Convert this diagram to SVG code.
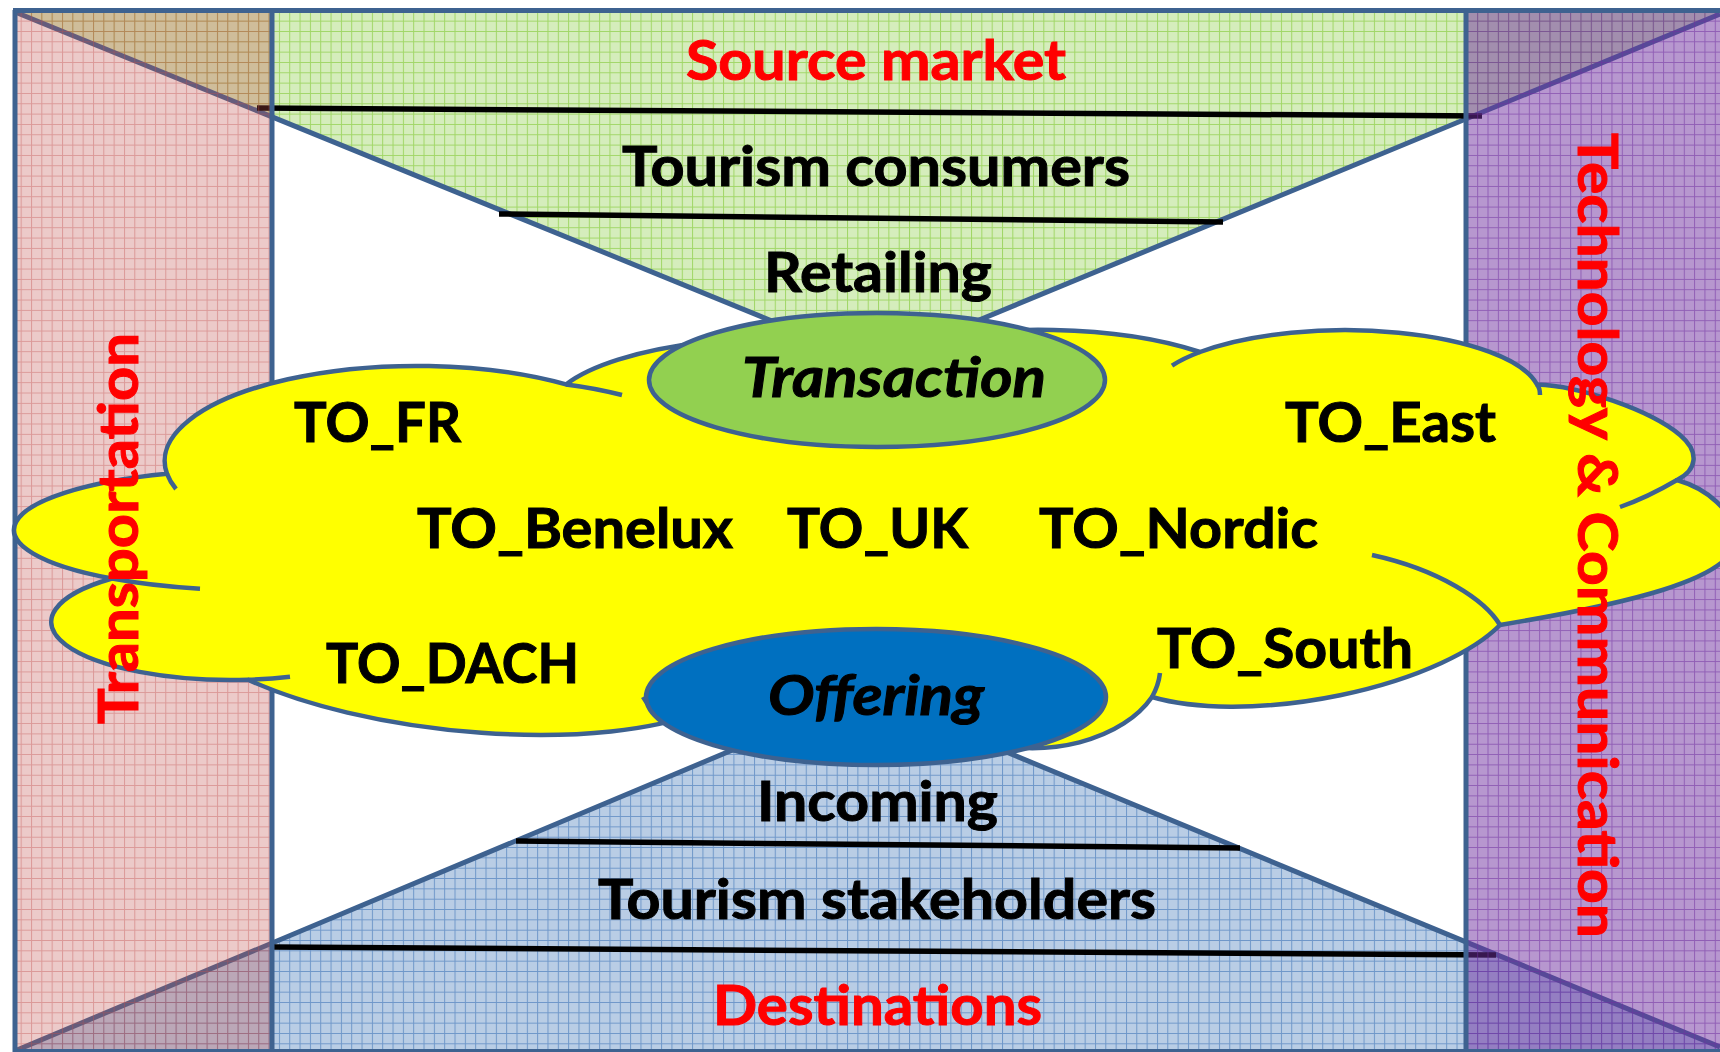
<svg xmlns="http://www.w3.org/2000/svg" width="1720" height="1052" viewBox="0 0 1720 1052">
  <defs>
    <!-- small-grid fills: tinted cell + darker grid line -->
    <pattern id="gridGreen" width="10.33" height="10.33" patternUnits="userSpaceOnUse">
      <rect width="10.33" height="10.33" fill="#92D050" fill-opacity="0.38"/>
      <path d="M0 0.5H10.33M0.5 0V10.33" stroke="#92D050" stroke-opacity="0.8" stroke-width="1"/>
    </pattern>
    <pattern id="gridBlue" width="10.33" height="10.33" patternUnits="userSpaceOnUse">
      <rect width="10.33" height="10.33" fill="#4F81BD" fill-opacity="0.4"/>
      <path d="M0 0.5H10.33M0.5 0V10.33" stroke="#4F81BD" stroke-opacity="0.7" stroke-width="1"/>
    </pattern>
    <pattern id="gridPink" width="10.33" height="10.33" patternUnits="userSpaceOnUse">
      <rect width="10.33" height="10.33" fill="#C0504D" fill-opacity="0.3"/>
      <path d="M0 0.5H10.33M0.5 0V10.33" stroke="#C0504D" stroke-opacity="0.4" stroke-width="1"/>
    </pattern>
    <pattern id="gridPurple" width="10.33" height="10.33" patternUnits="userSpaceOnUse">
      <rect width="10.33" height="10.33" fill="#7030A0" fill-opacity="0.5"/>
      <path d="M0 0.5H10.33M0.5 0V10.33" stroke="#7030A0" stroke-opacity="0.55" stroke-width="1"/>
    </pattern>
    <style>
      .edge { stroke: #3E6290; stroke-width: 5; fill: none; }
      .rule { stroke: #000; stroke-width: 5.5; }
      .cloud { fill: #FFFF00; stroke: #3E6290; stroke-width: 4.5; stroke-linejoin: round; }
      .inner { fill: none; stroke: #3E6290; stroke-width: 4.5; stroke-linecap: butt; }
      .lbl { font-family: Lato, "Liberation Sans", sans-serif; font-weight: 700; font-size: 56px; fill: #000; stroke: #000; stroke-width: 1; }
      .red { fill: #FF0000; stroke: #FF0000; }
      .ital { font-style: italic; }
    </style>
  </defs>

  <rect width="1720" height="1052" fill="#FFFFFF"/>

  <!-- source market funnel (top) -->
  <g id="source-market">
    <polygon points="15,12 1720,12 1720,14 875,363" fill="url(#gridGreen)"/>
    <path class="edge" d="M15,12 L875,363 L1720,14"/>
  </g>

  <!-- destinations funnel (bottom) -->
  <g id="destinations">
    <polygon points="17,1052 1720,1052 1720,1047 866,694 17,1050" fill="url(#gridBlue)"/>
    <path class="edge" d="M17,1050 L866,694 L1720,1047"/>
  </g>

  <!-- layer separators -->
  <g id="separators">
    <line class="rule" x1="257" y1="108" x2="1482" y2="116"/>
    <line class="rule" x1="499" y1="214" x2="1223" y2="222"/>
    <line class="rule" x1="516" y1="841" x2="1240" y2="848"/>
    <line class="rule" x1="273" y1="947" x2="1496" y2="955"/>
  </g>

  <!-- side bands -->
  <g id="transportation-band">
    <rect x="15" y="10" width="257" height="1042" fill="url(#gridPink)"/>
  </g>
  <g id="technology-band">
    <rect x="1466" y="10" width="260" height="1042" fill="url(#gridPurple)"/>
  </g>

  <!-- frame -->
  <g id="frame" class="edge">
    <path d="M13,10.5 H1722"/>
    <path d="M15,10 V1052 M272,10 V1052 M1466,10 V1052"/>
    <path d="M15,1050.5 H1722" stroke-width="3"/>
  </g>

  <!-- tour operator cloud -->
  <g id="tour-operators">
    <path class="cloud" d="M112,578.5
      A237 60 0 0 1 167,473.8
      A252 95 0 0 1 566,384.4
      A240 75 0 0 1 900,345.8
      A230 78 0 0 1 1200,352
      A195 66 0 0 1 1537,384.5
      C1580,386 1650,410 1680,435
      C1700,452 1697,470 1677,480
      C1705,488 1735,510 1735,540
      C1735,580 1620,605 1500,625
      A210 77 -10 0 1 1152,697
      A132 88 0 0 1 980,741
      L700,712
      A290 95 6 0 1 248,679.7
      A180 58 0 0 1 112,578.5 Z"/>
    <path class="inner" d="M112,578.5 A237 60 0 0 0 200,588.7"/>
    <path class="inner" d="M167,473.8 A252 95 0 0 0 176,489"/>
    <path class="inner" d="M566,384.4 Q595,388 622,395"/>
    <path class="inner" d="M1200,352 A195 66 0 0 0 1172,365.6"/>
    <path class="inner" d="M1537,384.5 Q1540,388 1540,395"/>
    <path class="inner" d="M1677,480 C1660,490 1640,500 1620,507"/>
    <path class="inner" d="M1500,625 C1485,600 1440,570 1372,555"/>
    <path class="inner" d="M1152,697 A132 88 0 0 0 1160,673"/>
    <path class="inner" d="M248,679.7 A180 58 0 0 0 290,676.7"/>
    <path class="inner" d="M643,697 Q648,706 657,712"/>
    <text class="lbl" x="294" y="442" textLength="167" lengthAdjust="spacingAndGlyphs">TO_FR</text>
    <text class="lbl" x="1285" y="442" textLength="211" lengthAdjust="spacingAndGlyphs">TO_East</text>
    <text class="lbl" x="417" y="548" textLength="316" lengthAdjust="spacingAndGlyphs">TO_Benelux</text>
    <text class="lbl" x="787" y="548" textLength="181" lengthAdjust="spacingAndGlyphs">TO_UK</text>
    <text class="lbl" x="1039" y="548" textLength="279" lengthAdjust="spacingAndGlyphs">TO_Nordic</text>
    <text class="lbl" x="326" y="683" textLength="253" lengthAdjust="spacingAndGlyphs">TO_DACH</text>
    <text class="lbl" x="1157" y="668" textLength="256" lengthAdjust="spacingAndGlyphs">TO_South</text>
  </g>

  <g id="transaction">
    <ellipse cx="877" cy="380" rx="228" ry="67" fill="#92D050" stroke="#3E6290" stroke-width="4.5"/>
    <text class="lbl ital" x="742" y="397" textLength="304" lengthAdjust="spacingAndGlyphs">Transaction</text>
  </g>

  <g id="offering">
    <ellipse cx="876" cy="697" rx="230" ry="68" fill="#0070C0" stroke="#3E6290" stroke-width="4.5"/>
    <text class="lbl ital" x="768" y="715" textLength="216" lengthAdjust="spacingAndGlyphs">Offering</text>
  </g>

  <!-- layer labels -->
  <g id="labels">
    <text class="lbl red" x="686" y="80" textLength="380" lengthAdjust="spacingAndGlyphs">Source market</text>
    <text class="lbl" x="622" y="186" textLength="508" lengthAdjust="spacingAndGlyphs">Tourism consumers</text>
    <text class="lbl" x="764" y="292" textLength="228" lengthAdjust="spacingAndGlyphs">Retailing</text>
    <text class="lbl" x="757" y="821" textLength="241" lengthAdjust="spacingAndGlyphs">Incoming</text>
    <text class="lbl" x="598" y="919" textLength="558" lengthAdjust="spacingAndGlyphs">Tourism stakeholders</text>
    <text class="lbl red" x="713" y="1025" textLength="329" lengthAdjust="spacingAndGlyphs">Destinations</text>
    <text class="lbl red" transform="translate(138,724) rotate(-90)" x="0" y="0" textLength="391" lengthAdjust="spacingAndGlyphs">Transportation</text>
    <text class="lbl red" transform="translate(1578,133) rotate(90)" x="0" y="0" textLength="805" lengthAdjust="spacingAndGlyphs">Technology &amp; Communication</text>
  </g>
</svg>
